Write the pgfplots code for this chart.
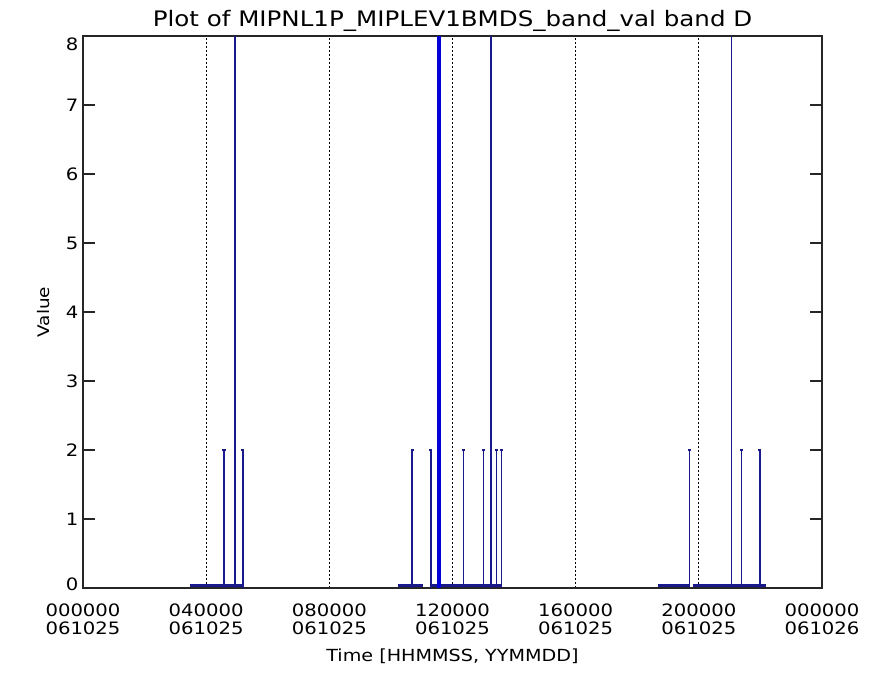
\documentclass[border=0pt]{standalone}
\usepackage{fontspec}
\setmainfont{DejaVu Sans}[FakeStretch=1.15]
\usepackage{pgfplots}
\pgfplotsset{compat=1.18}
\definecolor{navy}{RGB}{25,25,140}
\definecolor{brightblue}{RGB}{0,0,215}
\begin{document}
\begin{tikzpicture}
\begin{axis}[
  name=ax,
  scale only axis,
  width=554.25pt, height=414pt,
  xmin=0, xmax=24, ymin=0, ymax=8,
  xtick={0,4,8,12,16,20,24},
  xticklabels={{000000\\061025},{040000\\061025},{080000\\061025},{120000\\061025},{160000\\061025},{200000\\061025},{000000\\061026}},
  xticklabel style={align=center, font=\fontsize{12.8}{13.5}\selectfont, yshift=-8pt},
  ytick={0,1,...,8},
  yticklabels={\raisebox{3pt}[\height][\depth]{0},1,2,3,4,5,6,7,\raisebox{-6pt}[\height][\depth]{8}},
  yticklabel style={font=\fontsize{12.8}{13}\selectfont},
  /pgf/number format/assume math mode=true,
  major x tick style={draw=none},
  ytick pos=both,
  tick align=inside,
  major tick length=9pt,
  xmajorgrids,
  grid style={black, line width=0.8pt, dash pattern=on 1.3pt off 1.7pt},
  axis line style={line width=1pt, black!85},
  every tick/.style={black!85, line width=0.8pt},
  title={Plot of MIPNL1P\_MIPLEV1BMDS\_band\_val band D},
  title style={font=\fontsize{16}{17}\selectfont, yshift=-6pt},
  xlabel={Time [HHMMSS, YYMMDD]},
  ylabel={Value},
  xlabel style={font=\fontsize{12.5}{14}\selectfont, yshift=-4pt},
  ylabel style={font=\fontsize{12}{14}\selectfont, yshift=5pt},
  unbounded coords=jump,
  clip=true,
]
% baseline (value 0) segments
\addplot[navy, line width=1.9pt] coordinates {
 (3.47,0.035) (5.19,0.035) (5.19,nan)
 (10.23,0.035) (11.04,0.035) (11.04,nan)
 (11.27,0.035) (13.59,0.035) (13.59,nan)
 (18.67,0.035) (19.71,0.035) (19.71,nan)
 (19.81,0.035) (22.18,0.035)
};
% spikes
\addplot[navy, line width=1.1pt] coordinates {
 (4.58,0) (4.58,2) (4.58,nan) (4.53,2) (4.63,2) (4.63,nan)
 (4.94,0) (4.94,8.5) (4.94,nan)
 (5.19,0) (5.19,2) (5.19,nan) (5.14,2) (5.24,2) (5.24,nan)
 (10.69,0) (10.69,2) (10.69,nan) (10.64,2) (10.74,2) (10.74,nan)
 (11.30,0) (11.30,2) (11.30,nan) (11.25,2) (11.35,2) (11.35,nan)
 (12.35,0) (12.35,2) (12.35,nan) (12.30,2) (12.40,2) (12.40,nan)
 (13.00,0) (13.00,2) (13.00,nan) (12.95,2) (13.05,2) (13.05,nan)
 (13.25,0) (13.25,8.5) (13.25,nan)
 (13.43,0) (13.43,2) (13.43,nan) (13.38,2) (13.48,2) (13.48,nan)
 (13.59,0) (13.59,2) (13.59,nan) (13.54,2) (13.64,2) (13.64,nan)
 (19.69,0) (19.69,2) (19.69,nan) (19.64,2) (19.74,2) (19.74,nan)
 (21.06,0) (21.06,8.5) (21.06,nan)
 (21.38,0) (21.38,2) (21.38,nan) (21.33,2) (21.43,2) (21.43,nan)
 (21.98,0) (21.98,2) (21.98,nan) (21.93,2) (22.03,2) (22.03,nan)
};
% dense spikes near 11:30
\addplot[brightblue, line width=1.1pt] coordinates {
 (11.52,0) (11.52,8.5) (11.52,nan)
 (11.56,0) (11.56,8.5) (11.56,nan)
 (11.60,0) (11.60,8.5)
};
\end{axis}
\pgfresetboundingbox
\path[use as bounding box] (ax.south west) ++(-62.25pt,-65.25pt) rectangle ++(654.75pt,506.25pt);
\end{tikzpicture}
\end{document}
